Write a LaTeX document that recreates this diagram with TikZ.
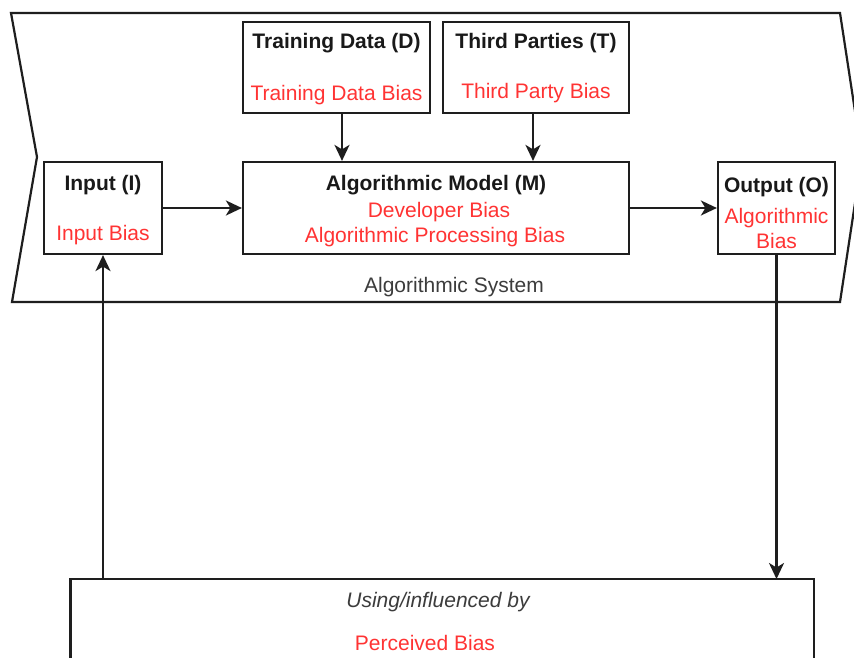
\documentclass[tikz,border=0pt]{standalone}
\usepackage{fontspec}
\setmainfont{Liberation Sans}
\usetikzlibrary{arrows.meta}
\definecolor{biasred}{RGB}{255,51,51}
\definecolor{linegray}{RGB}{30,30,30}
\definecolor{sysgray}{RGB}{60,60,60}
\tikzset{
  box/.style={draw=linegray, line width=2.2pt, fill=white, inner sep=0pt},
  ttl/.style={font=\fontsize{21}{24}\selectfont\bfseries, text=black!90, anchor=base, inner sep=0pt},
  bias/.style={font=\fontsize{21}{24}\selectfont, text=biasred, anchor=base, inner sep=0pt},
  note/.style={font=\fontsize{21}{24}\selectfont, text=sysgray, anchor=base, inner sep=0pt},
  arr/.style={draw=linegray, line width=2.2pt, -{Stealth[length=16pt,width=15pt,inset=4.5pt]}},
  plain/.style={draw=linegray, line width=2.2pt}
}
\begin{document}
\begin{tikzpicture}[x=1pt,y=-1pt]
\useasboundingbox (0,0) rectangle (854,658);
\clip (0,0) rectangle (854,658);
\fill[white] (0,0) rectangle (854,658);
% system outline
\draw[plain, line join=miter] (11,13) -- (840,13) -- (862,157) -- (840,302) -- (12,302) -- (37,157) -- cycle;
\node[note] (sys) at (454,292) {Algorithmic System};
% boxes
\node[box, minimum width=187, minimum height=91] (D) at (336.5,67.5) {};
\node[box, minimum width=186, minimum height=91] (T) at (536,67.5) {};
\node[box, minimum width=386, minimum height=92] (M) at (436,208) {};
\node[box, minimum width=118, minimum height=92] (I) at (103,208) {};
\node[box, minimum width=117, minimum height=92] (O) at (776.5,208) {};
% bottom box (partially visible)
\coordinate (Pnw) at (70.5,579);
\coordinate (Pne) at (814,579);
\draw[plain] (70.5,670) -- (Pnw) -- (Pne) -- (814,670);
% texts
\node[ttl] (Dt) at (336.5,49) {Training Data (D)};
\node[bias] (Db) at (336.5,101) {Training Data Bias};
\node[ttl] (Tt) at (536,49) {Third Parties (T)};
\node[bias] (Tb) at (536,99) {Third Party Bias};
\node[ttl] (Mt) at (436,190) {Algorithmic Model (M)};
\node[bias] (Mb1) at (439,217) {Developer Bias};
\node[bias] (Mb2) at (435,242) {Algorithmic Processing Bias};
\node[ttl] (It) at (103,190) {Input (I)};
\node[bias] (Ib) at (103,240) {Input Bias};
\node[ttl] (Ot) at (776.5,192) {Output (O)};
\node[bias] (Ob1) at (776.5,223) {Algorithmic};
\node[bias] (Ob2) at (776.5,248) {Bias};
\node[note, font=\fontsize{21}{24}\selectfont\itshape] (Pu) at (438,607) {Using/influenced by};
\node[bias] (Pb) at (425,650) {Perceived Bias};
% connectors
\draw[arr] ([xshift=5.5]D.south) -- ([xshift=5.5]D.south |- M.north);
\draw[arr] ([xshift=-3]T.south) -- ([xshift=-3]T.south |- M.north);
\draw[arr] (I) -- (M);
\draw[arr] (M) -- (O);
\draw[arr] (O.south) -- (O.south |- Pnw);
\draw[arr] (I.south |- Pnw) -- (I.south);
\end{tikzpicture}
\end{document}
